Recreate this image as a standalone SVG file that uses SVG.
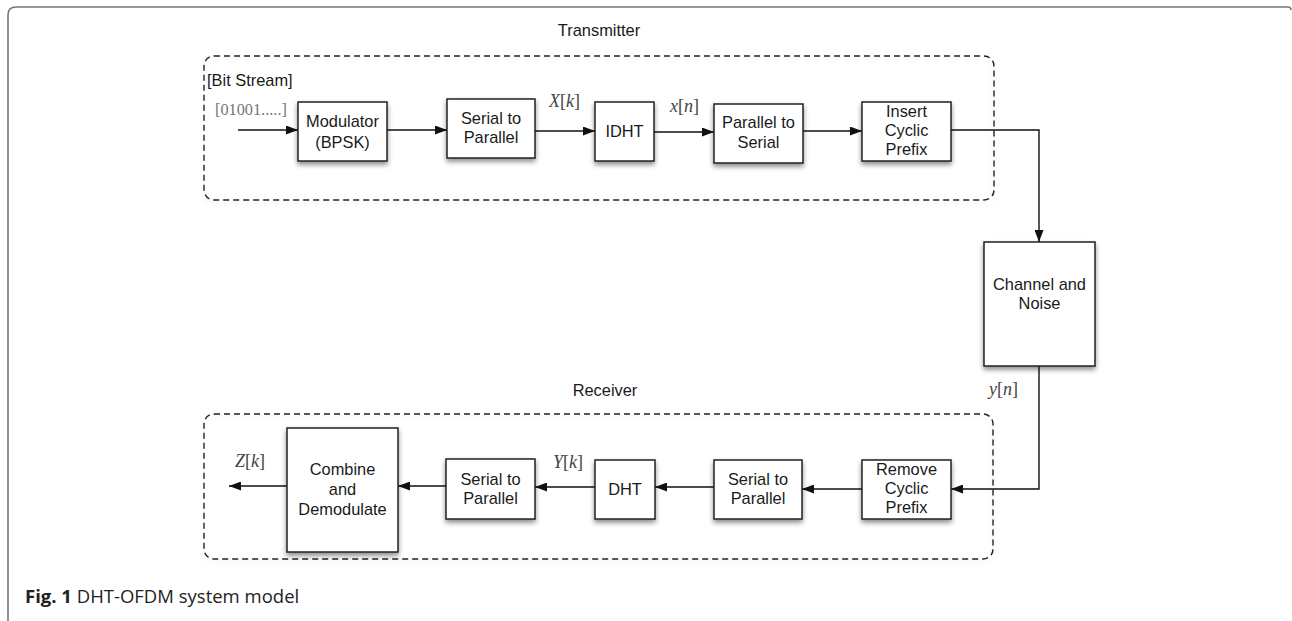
<svg xmlns="http://www.w3.org/2000/svg" width="1292" height="621" viewBox="0 0 1292 621">
<defs>
<filter id="sh" x="-20%" y="-20%" width="140%" height="150%">
<feDropShadow dx="0" dy="3" stdDeviation="2.5" flood-color="#000" flood-opacity="0.45"/>
</filter>
<filter id="shd" x="-5%" y="-10%" width="110%" height="130%">
<feDropShadow dx="0" dy="3" stdDeviation="3" flood-color="#000" flood-opacity="0.12"/>
</filter>
<marker id="ah" markerWidth="12" markerHeight="9" refX="12" refY="4.5" orient="auto" markerUnits="userSpaceOnUse">
<path d="M0,0 L12,4.5 L0,9 Z" fill="#111"/>
</marker>
</defs>
<style>
.box{fill:#fff;stroke:#222;stroke-width:1.5;filter:url(#sh)}
.grp{fill:none;stroke:#222;stroke-width:1.4;stroke-dasharray:6 4;filter:url(#shd)}
.lbl{font-family:"Liberation Sans",Arial,sans-serif;font-size:16.4px;fill:#1a1a1a;text-anchor:middle}
.math{font-family:"Liberation Serif","Times New Roman",serif;font-size:18px;fill:#444}
.conn{fill:none;stroke:#111;stroke-width:1.4}
</style>
<rect width="1292" height="621" fill="#fff"/>
<path d="M8,621 V15 Q8,7 16,7 H1288 Q1291,7 1291,10" fill="none" stroke="#777" stroke-width="1.6"/>

<g id="transmitter-group">
<rect class="grp" x="204" y="56" width="790" height="144" rx="10"/>
<text class="lbl" x="599" y="36">Transmitter</text>
<text class="lbl" x="207" y="86" style="text-anchor:start">[Bit Stream]</text>
<text class="math" x="215" y="115" style="fill:#777;font-size:16.3px">[01001.....]</text>
</g>
<g id="receiver-group">
<rect class="grp" x="204" y="414" width="789" height="145" rx="10"/>
<text class="lbl" x="605" y="396">Receiver</text>
</g>

<g id="connectors">
<line class="conn" x1="238" y1="130" x2="298" y2="130" marker-end="url(#ah)"/>
<line class="conn" x1="387" y1="130" x2="447" y2="130" marker-end="url(#ah)"/>
<line class="conn" x1="535" y1="131" x2="595" y2="131" marker-end="url(#ah)"/>
<line class="conn" x1="654" y1="132" x2="714" y2="132" marker-end="url(#ah)"/>
<line class="conn" x1="803" y1="131" x2="862" y2="131" marker-end="url(#ah)"/>
<polyline class="conn" points="951,130 1039,130 1039,242" marker-end="url(#ah)"/>
<polyline class="conn" points="1039,366 1039,489 951,489" marker-end="url(#ah)"/>
<line class="conn" x1="862" y1="489" x2="802" y2="489" marker-end="url(#ah)"/>
<line class="conn" x1="714" y1="487" x2="655" y2="487" marker-end="url(#ah)"/>
<line class="conn" x1="595" y1="487" x2="535" y2="487" marker-end="url(#ah)"/>
<line class="conn" x1="446" y1="486" x2="398" y2="486" marker-end="url(#ah)"/>
<line class="conn" x1="287" y1="486" x2="229" y2="486" marker-end="url(#ah)"/>
<text class="math" x="549" y="107"><tspan font-style="italic">X</tspan>[<tspan font-style="italic">k</tspan>]</text>
<text class="math" x="670" y="112"><tspan font-style="italic">x</tspan>[<tspan font-style="italic">n</tspan>]</text>
<text class="math" x="989" y="395"><tspan font-style="italic">y</tspan>[<tspan font-style="italic">n</tspan>]</text>
<text class="math" x="553" y="468"><tspan font-style="italic">Y</tspan>[<tspan font-style="italic">k</tspan>]</text>
<text class="math" x="235" y="467"><tspan font-style="italic">Z</tspan>[<tspan font-style="italic">k</tspan>]</text>
</g>

<g id="modulator">
<rect class="box" x="298" y="102" width="89" height="59"/>
<text class="lbl" x="342.5" y="127">Modulator</text>
<text class="lbl" x="342.5" y="148">(BPSK)</text>
</g>
<g id="serial-to-parallel-tx">
<rect class="box" x="447" y="99" width="88" height="59"/>
<text class="lbl" x="491" y="124">Serial to</text>
<text class="lbl" x="491" y="143">Parallel</text>
</g>
<g id="idht">
<rect class="box" x="595" y="102" width="59" height="59"/>
<text class="lbl" x="624.5" y="137">IDHT</text>
</g>
<g id="parallel-to-serial">
<rect class="box" x="714" y="104" width="89" height="59"/>
<text class="lbl" x="758.5" y="128">Parallel to</text>
<text class="lbl" x="758.5" y="148">Serial</text>
</g>
<g id="insert-cp">
<rect class="box" x="862" y="102" width="89" height="59"/>
<text class="lbl" x="906.5" y="117">Insert</text>
<text class="lbl" x="906.5" y="136">Cyclic</text>
<text class="lbl" x="906.5" y="155">Prefix</text>
</g>
<g id="channel">
<rect class="box" x="984" y="242" width="111" height="124"/>
<text class="lbl" x="1039.5" y="290">Channel and</text>
<text class="lbl" x="1039.5" y="309">Noise</text>
</g>
<g id="remove-cp">
<rect class="box" x="862" y="460" width="89" height="59"/>
<text class="lbl" x="906.5" y="475">Remove</text>
<text class="lbl" x="906.5" y="494">Cyclic</text>
<text class="lbl" x="906.5" y="513">Prefix</text>
</g>
<g id="serial-to-parallel-rx2">
<rect class="box" x="714" y="460" width="88" height="59"/>
<text class="lbl" x="758" y="485">Serial to</text>
<text class="lbl" x="758" y="504">Parallel</text>
</g>
<g id="dht">
<rect class="box" x="595" y="460" width="60" height="59"/>
<text class="lbl" x="625" y="495">DHT</text>
</g>
<g id="serial-to-parallel-rx1">
<rect class="box" x="446" y="459" width="89" height="60"/>
<text class="lbl" x="490.5" y="485">Serial to</text>
<text class="lbl" x="490.5" y="504">Parallel</text>
</g>
<g id="combine-demod">
<rect class="box" x="287" y="428" width="111" height="124"/>
<text class="lbl" x="342.5" y="475">Combine</text>
<text class="lbl" x="342.5" y="495">and</text>
<text class="lbl" x="342.5" y="515">Demodulate</text>
</g>

<text x="25" y="603" font-family="'Open Sans','Noto Sans',sans-serif" font-size="18.5" fill="#222"><tspan font-weight="bold">Fig. 1</tspan> DHT-OFDM system model</text>
</svg>
